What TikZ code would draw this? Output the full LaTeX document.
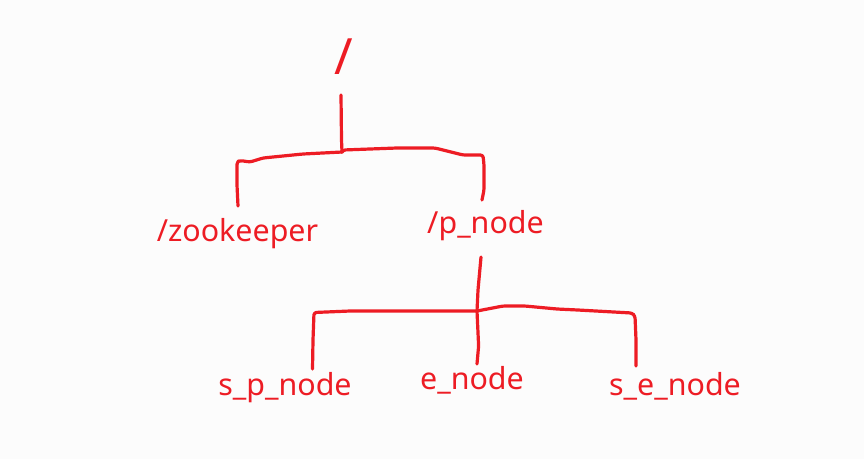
\documentclass[tikz,border=0pt]{standalone}
\usepackage{fontspec}
\newfontfamily\labfont{Noto Sans}
\definecolor{paintred}{RGB}{237,28,36}
\definecolor{bgwhite}{RGB}{252,252,252}
\begin{document}
\begin{tikzpicture}[x=1pt,y=-1pt,
  lab/.style={text=paintred,font=\labfont\fontsize{30.4}{32}\selectfont,inner sep=0pt,anchor=base},
  rootlab/.style={text=paintred,font=\labfont\fontsize{50}{52}\selectfont,inner sep=0pt,anchor=base},
  wire/.style={draw=paintred,line width=3.2pt,line cap=round,line join=round,rounded corners=2.5pt}]
\fill[bgwhite] (0,0) rectangle (864,459);
\useasboundingbox (0,0) rectangle (864,459);

% labels
\node[rootlab] (root) at (344,74) {/};
\node[lab] (zk)  at (237.5,241) {/zookeeper};
\node[lab] (pn)  at (485.5,233) {/p\_node};
\node[lab] (spn) at (285,395) {s\_p\_node};
\node[lab] (en)  at (472,389) {e\_node};
\node[lab] (sen) at (675,395) {s\_e\_node};

% junction points and free ends
\coordinate (rootStem) at (341,95);
\coordinate (j1) at (342,152);
\coordinate (zkEnd) at (238,206);
\coordinate (pnEnd) at (482,200);
\coordinate (pnStem) at (481,257);
\coordinate (j2) at (477,311);
\coordinate (spnEnd) at (312.5,369);
\coordinate (enEnd) at (477,364);
\coordinate (senEnd) at (636,366);

% first level
\draw[wire] (rootStem) -- (341.5,140) -- (j1);
\draw[wire] (j1) -- (303,154) -- (263,158) -- (250,162) -- (240,160.5) -- (237,162) -- (237,185) -- (zkEnd);
\draw[wire] (j1) -- (343,150) -- (397,148) -- (435,148) -- (463,155) -- (483,155) -- (484,165) -- (484,190) -- (pnEnd);

% second level
\draw[wire] (pnStem) -- (478,290) -- (j2) -- (478.6,346) -- (enEnd);
\draw[wire] (j2) -- (350,311) -- (314,312.5) -- (313,340) -- (spnEnd);
\draw[wire] (j2) -- (503,306) -- (525,306) -- (557,309) -- (578,310) -- (632,313) -- (635,316) -- (636,340) -- (senEnd);
\end{tikzpicture}
\end{document}
